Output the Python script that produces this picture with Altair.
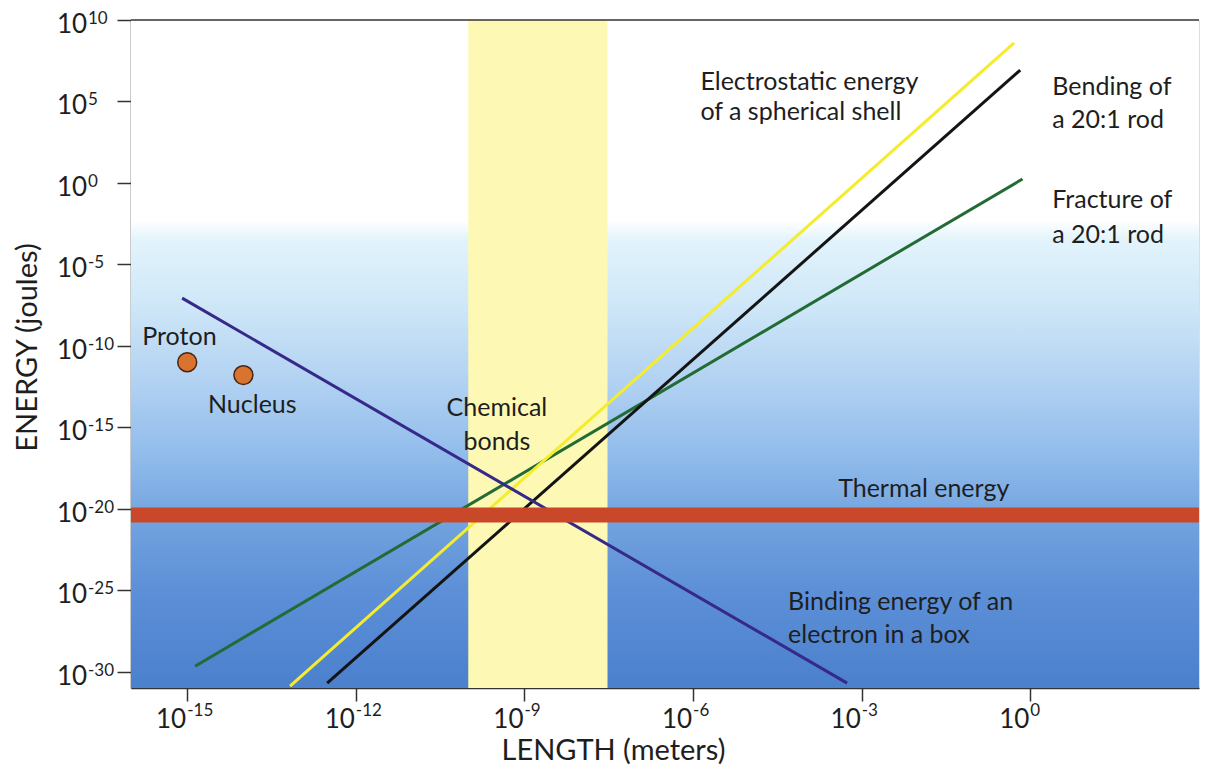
import altair as alt
import pandas as pd

# ---------------- data ----------------
x_tick_exps = [-15, -12, -9, -6, -3, 0]
y_tick_exps = [10, 5, 0, -5, -10, -15, -20, -25, -30]

line_names = ["Fracture", "Electrostatic", "Bending", "Binding"]
line_x_exps = [[-14.86, -0.14], [-13.17, -0.29], [-12.51, -0.18], [-15.09, -3.26]]
line_y_exps = [[-29.66, 0.24], [-30.88, 8.59], [-30.70, 6.93], [-7.07, -30.70]]
line_colors = ["#236b34", "#f4ec2c", "#141414", "#36298a"]

thermal_energy = 4.1e-21
chem_bond_start = 1e-10
chem_bond_end = 3e-8

point_names = ["Proton", "Nucleus"]
point_x = [1e-15, 1e-14]
point_y = [1.0e-11, 1.6e-12]

ann_text = ["Electrostatic energy", "of a spherical shell", "Bending of", "a 20:1 rod",
            "Fracture of", "a 20:1 rod", "Proton", "Nucleus", "Thermal energy",
            "Binding energy of an", "electron in a box"]
ann_x_exp = [-5.87, -5.87, 0.39, 0.39, 0.39, 0.39, -15.80, -14.63, -3.42, -4.31, -4.31]
ann_y_exp = [5.70, 3.86, 5.40, 3.37, -1.54, -3.69, -9.95, -14.12, -19.28, -26.21, -28.24]

chem_text = ["Chemical", "bonds"]
chem_x_exp = [-9.49, -9.49]
chem_y_exp = [-14.30, -16.39]

X_MIN, X_MAX = 1e-16, 1e3
Y_MIN, Y_MAX = 1e-31, 1e10
W, H = 1068, 668
FONT = "Lato"
TXT = "#1e1e1e"

# ---------------- tables ----------------
rows = []
for n, xs, ys in zip(line_names, line_x_exps, line_y_exps):
    for xe, ye in zip(xs, ys):
        rows.append({"name": n, "x": 10 ** xe, "y": 10 ** ye})
lines_df = pd.DataFrame(rows)

bg_df = pd.DataFrame([{"x": X_MIN, "x2": X_MAX, "y": Y_MIN, "y2": Y_MAX}])
chem_df = pd.DataFrame([{"x": chem_bond_start, "x2": chem_bond_end, "y": Y_MIN, "y2": Y_MAX}])
thermal_df = pd.DataFrame([{"y": thermal_energy}])
top_df = pd.DataFrame([{"y": Y_MAX}])
pts_df = pd.DataFrame({"name": point_names, "x": point_x, "y": point_y})
ann_df = pd.DataFrame({"t": ann_text, "x": [10 ** v for v in ann_x_exp], "y": [10 ** v for v in ann_y_exp]})
chem_txt_df = pd.DataFrame({"t": chem_text, "x": [10 ** v for v in chem_x_exp], "y": [10 ** v for v in chem_y_exp]})
xt_df = pd.DataFrame({"x": [10.0 ** e for e in x_tick_exps], "e": [str(e) for e in x_tick_exps]})
yt_df = pd.DataFrame({"y": [10.0 ** e for e in y_tick_exps], "e": [str(e) for e in y_tick_exps]})

# ---------------- scales / axes ----------------
xscale = alt.Scale(type="log", domain=[X_MIN, X_MAX], nice=False)
yscale = alt.Scale(type="log", domain=[Y_MIN, Y_MAX], nice=False)

xaxis = alt.Axis(values=[10.0 ** e for e in x_tick_exps], labels=False, grid=False,
                 tickSize=13, tickWidth=1.5, tickColor="#333333",
                 domainColor="#333333", domainWidth=1.5,
                 title="LENGTH (meters)", titleFont=FONT, titleFontSize=29,
                 titleFontWeight="normal", titleColor=TXT,
                 titleX=482, titleY=71, titleAlign="center", titleBaseline="alphabetic")
yaxis = alt.Axis(values=[10.0 ** e for e in y_tick_exps], labels=False, grid=False,
                 tickSize=14, tickWidth=1.5, tickColor="#333333",
                 domainColor="#333333", domainWidth=1.5,
                 title="ENERGY (joules)", titleFont=FONT, titleFontSize=29,
                 titleFontWeight="normal", titleColor=TXT, titleAngle=270,
                 titleX=-95, titleY=327, titleAlign="center", titleBaseline="alphabetic")


def X(f="x"):
    return alt.X(f, type="quantitative", scale=xscale, axis=xaxis)


def Y(f="y"):
    return alt.Y(f, type="quantitative", scale=yscale, axis=yaxis)


gradient = alt.LinearGradient(
    gradient="linear", x1=0, x2=0, y1=0, y2=1,
    stops=[
        alt.GradientStop(offset=0.0, color="#ffffff"),
        alt.GradientStop(offset=0.30, color="#ffffff"),
        alt.GradientStop(offset=0.33, color="#e2f3fb"),
        alt.GradientStop(offset=0.42, color="#d0e8f8"),
        alt.GradientStop(offset=0.54, color="#b2d2f2"),
        alt.GradientStop(offset=0.66, color="#8ebaea"),
        alt.GradientStop(offset=0.75, color="#72a3df"),
        alt.GradientStop(offset=0.85, color="#5d90d7"),
        alt.GradientStop(offset=1.0, color="#4b80cd"),
    ],
)

bg = alt.Chart(bg_df).mark_rect(fill=gradient).encode(
    x=X("x"), x2="x2", y=Y("y"), y2="y2")

chem = alt.Chart(chem_df).mark_rect(fill="#fdf9b4").encode(
    x=X("x"), x2="x2", y=Y("y"), y2="y2")

lines = alt.Chart(lines_df).mark_line(strokeWidth=3).encode(
    x=X("x"), y=Y("y"),
    color=alt.Color("name:N", scale=alt.Scale(domain=line_names, range=line_colors), legend=None),
)

thermal = alt.Chart(thermal_df).mark_rule(color="#c9482a", strokeWidth=15).encode(y=Y("y"))

top_line = alt.Chart(top_df).mark_rule(color="#333333", strokeWidth=1.5).encode(y=Y("y"))

pts = alt.Chart(pts_df).mark_circle(size=360, opacity=1, fill="#d8742f",
                                    stroke="#4a2410", strokeWidth=1.5).encode(x=X("x"), y=Y("y"))

ann = alt.Chart(ann_df).mark_text(font=FONT, fontSize=25, color=TXT, align="left",
                                  baseline="alphabetic").encode(x=X("x"), y=Y("y"), text="t:N")

chem_txt = alt.Chart(chem_txt_df).mark_text(font=FONT, fontSize=25, color=TXT, align="center",
                                            baseline="alphabetic").encode(x=X("x"), y=Y("y"), text="t:N")

# tick labels: "10" plus a raised exponent
xt_base = alt.Chart(xt_df).mark_text(font=FONT, fontSize=26, color=TXT, align="right",
                                     baseline="alphabetic", dx=-1).encode(
    x=X("x"), y=alt.value(H + 40), text=alt.value("10"))
xt_exp = alt.Chart(xt_df).mark_text(font=FONT, fontSize=17, color=TXT, align="left",
                                    baseline="alphabetic", dx=0).encode(
    x=X("x"), y=alt.value(H + 28), text="e:N")

yt_base = alt.Chart(yt_df).mark_text(font=FONT, fontSize=26, color=TXT, align="left",
                                     baseline="alphabetic", dy=13).encode(
    x=alt.value(-74), y=Y("y"), text=alt.value("10"))
yt_exp = alt.Chart(yt_df).mark_text(font=FONT, fontSize=17, color=TXT, align="left",
                                    baseline="alphabetic", dy=4).encode(
    x=alt.value(-43), y=Y("y"), text="e:N")

chart = alt.layer(
    bg, chem, lines, thermal, top_line, pts, ann, chem_txt, xt_base, xt_exp, yt_base, yt_exp
).properties(
    width=W, height=H,
    autosize=alt.AutoSizeParams(type="none"),
    padding={"left": 123, "top": 12, "right": 2, "bottom": 78},
).configure_view(stroke=None).configure(font=FONT)

chart.save("out.html", embed_options={"renderer": "svg", "actions": False})
